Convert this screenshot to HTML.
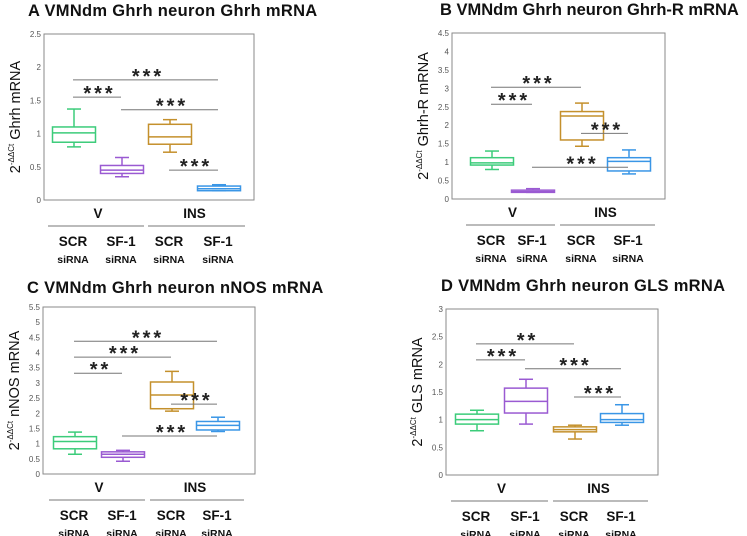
<!DOCTYPE html>
<html><head><meta charset="utf-8">
<style>
html,body{margin:0;padding:0;background:#fff;}
svg{display:block;font-family:"Liberation Sans",Arial,sans-serif;}
</style></head>
<body>
<svg id="fig" width="747" height="536" viewBox="0 0 747 536" xmlns="http://www.w3.org/2000/svg"></svg>
<script>
// ---- Data arrays ----
const categories = ["SCR siRNA V", "SF-1 siRNA V", "SCR siRNA INS", "SF-1 siRNA INS"];
const colors = ["#3ccc7a", "#9a5ad2", "#c4902c", "#3a96e6"];
// [whiskerLow, q1, median, q3, whiskerHigh]
const dataA = [[0.80,0.87,1.01,1.10,1.37],[0.35,0.40,0.45,0.52,0.64],[0.72,0.84,0.95,1.14,1.21],[0.14,0.14,0.17,0.21,0.23]];
const dataB = [[0.80,0.92,0.98,1.12,1.30],[0.18,0.18,0.20,0.24,0.28],[1.43,1.60,2.25,2.37,2.60],[0.68,0.76,1.02,1.12,1.33]];
const dataC = [[0.65,0.83,1.07,1.23,1.38],[0.42,0.55,0.65,0.73,0.78],[2.07,2.15,2.60,3.03,3.38],[1.40,1.45,1.60,1.73,1.87]];
const dataD = [[0.80,0.92,1.00,1.10,1.17],[0.92,1.12,1.33,1.57,1.73],[0.65,0.78,0.82,0.87,0.90],[0.90,0.95,1.00,1.11,1.27]];
// significance bars: [fromIndex, toIndex, yValue, label]
const sigA = [[0,3,1.81,"***"],[0,1,1.55,"***"],[1,3,1.36,"***"],[2,3,0.45,"***"]];
const sigB = [[0,2,3.03,"***"],[0,1,2.57,"***"],[2,3,1.78,"***"],[1,3,0.86,"***"]];
const sigC = [[0,3,4.37,"***"],[0,2,3.85,"***"],[0,1,3.32,"**"],[2,3,2.30,"***"],[1,3,1.25,"***"]];
const sigD = [[0,2,2.37,"**"],[0,1,2.08,"***"],[1,3,1.92,"***"],[2,3,1.41,"***"]];
const ticksA = ["0","0.5","1","1.5","2","2.5"];
const ticksB = ["0","0.5","1","1.5","2","2.5","3","3.5","4","4.5"];
const ticksC = ["0","0.5","1","1.5","2","2.5","3","3.5","4","4.5","5","5.5"];
const ticksD = ["0","0.5","1","1.5","2","2.5","3"];

const NS = "http://www.w3.org/2000/svg";
const svg = document.getElementById("fig");
function mk(tag, attrs, parent, text){
  const e = document.createElementNS(NS, tag);
  for (const k in attrs) e.setAttribute(k, attrs[k]);
  if (text !== undefined) e.textContent = text;
  (parent||svg).appendChild(e); return e;
}

function panel(p){
  const g = mk("g", {});
  
  
  const ymax = parseFloat(p.ticks[p.ticks.length-1]);
  const y = v => p.bottom - (v / ymax) * (p.bottom - p.top);
  const x = i => p.centers[i];
  // title
  const t = mk("text", {x:p.titleX, y:p.titleY, "font-size":16.5, "font-weight":"bold", fill:"#111", "letter-spacing":p.titleLS}, g, p.letter + "  VMNdm Ghrh neuron " + p.gene + " mRNA");
  
  
  // plot frame
  const fr = mk("rect", {x:p.left, y:p.top, width:p.right-p.left, height:p.bottom-p.top, fill:"none", stroke:"#8a8a8a", "stroke-width":1}, g);
  
  
  // ticks
  p.ticks.forEach(tk => {
    const lab = mk("text", {x:p.left-3, y:y(parseFloat(tk))+3, "font-size":8, fill:"#555", "text-anchor":"end"}, g, tk);
    
    
  });
  // y title
  const yt = mk("text", {transform:`translate(${p.left-24},${(p.top+p.bottom)/2}) rotate(-90)`, "font-size":14.5, fill:"#111", "text-anchor":"middle"}, g);
  
  
  mk("tspan", {}, yt, "2");
  mk("tspan", {"font-size":8, dy:-6}, yt, "-ΔΔCt");
  mk("tspan", {dy:6}, yt, " " + p.gene + " mRNA");
  // boxes
  p.data.forEach((d, i) => {
    const c = colors[i], cx = x(i), hw = p.boxW/2, cw = 7;
    const bg = mk("g", {stroke:c, "stroke-width":1.5, fill:"none"}, g);
    
    
    mk("line", {x1:cx, x2:cx, y1:y(d[0]), y2:y(d[1])}, bg);
    mk("line", {x1:cx, x2:cx, y1:y(d[3]), y2:y(d[4])}, bg);
    mk("line", {x1:cx-cw, x2:cx+cw, y1:y(d[0]), y2:y(d[0])}, bg);
    mk("line", {x1:cx-cw, x2:cx+cw, y1:y(d[4]), y2:y(d[4])}, bg);
    mk("rect", {x:cx-hw, y:y(d[3]), width:2*hw, height:Math.max(1,y(d[1])-y(d[3]))}, bg);
    mk("line", {x1:cx-hw, x2:cx+hw, y1:y(d[2]), y2:y(d[2])}, bg);
  });
  // significance
  p.sig.forEach(s => {
    const yy = y(s[2]);
    const l = mk("line", {x1:x(s[0])-1, x2:x(s[1])-1, y1:yy, y2:yy, stroke:"#777", "stroke-width":1}, g);
    
    
    const st = mk("text", {x:(x(s[0])+x(s[1]))/2 + 1.5, y:yy+3, "font-size":20, "font-weight":"bold", fill:"#222", "text-anchor":"middle", "letter-spacing":"3"}, g, s[3]);
    
    
  });
  // group labels
  const gy = p.bottom + 18;
  [["V",(x(0)+x(1))/2],["INS",(x(2)+x(3))/2]].forEach(([lab,cx], k) => {
    const gt = mk("text", {x:cx, y:gy, "font-size":13.5, "font-weight":"bold", fill:"#111", "text-anchor":"middle"}, g, lab);
    
    
    const ln = mk("line", {x1:k?x(2)-22:x(0)-26, x2:k?x(3)+26:x(1)+22, y1:gy+8, y2:gy+8, stroke:"#777", "stroke-width":1}, g);
    
    
  });
  categories.forEach((c, i) => {
    const parts = c.split(" ");
    const a = mk("text", {x:x(i)-1, y:gy+28, "font-size":13.5, "font-weight":"bold", fill:"#111", "text-anchor":"middle"}, g, parts[0]);
    
    
    const b = mk("text", {x:x(i)-1, y:gy+45, "font-size":10.5, "font-weight":"bold", fill:"#111", "text-anchor":"middle"}, g, parts[1]);
    
    
  });
}

panel({letter:"A", gene:"Ghrh", data:dataA, sig:sigA, ticks:ticksA, left:44, right:254, top:34, bottom:200, centers:[74,122,170,219], boxW:43, titleX:28, titleY:16, titleLS:"0.3"});
panel({letter:"B", gene:"Ghrh-R", data:dataB, sig:sigB, ticks:ticksB, left:452, right:665, top:33, bottom:199, centers:[492,533,582,629], boxW:43, titleX:440, titleY:15, titleLS:"0"});
panel({letter:"C", gene:"nNOS", data:dataC, sig:sigC, ticks:ticksC, left:43, right:255, top:307, bottom:474, centers:[75,123,172,218], boxW:43, titleX:27, titleY:293, titleLS:"0.3"});
panel({letter:"D", gene:"GLS", data:dataD, sig:sigD, ticks:ticksD, left:446, right:658, top:309, bottom:475, centers:[477,526,575,622], boxW:43, titleX:441, titleY:291, titleLS:"0.3"});
</script>
</body></html>
